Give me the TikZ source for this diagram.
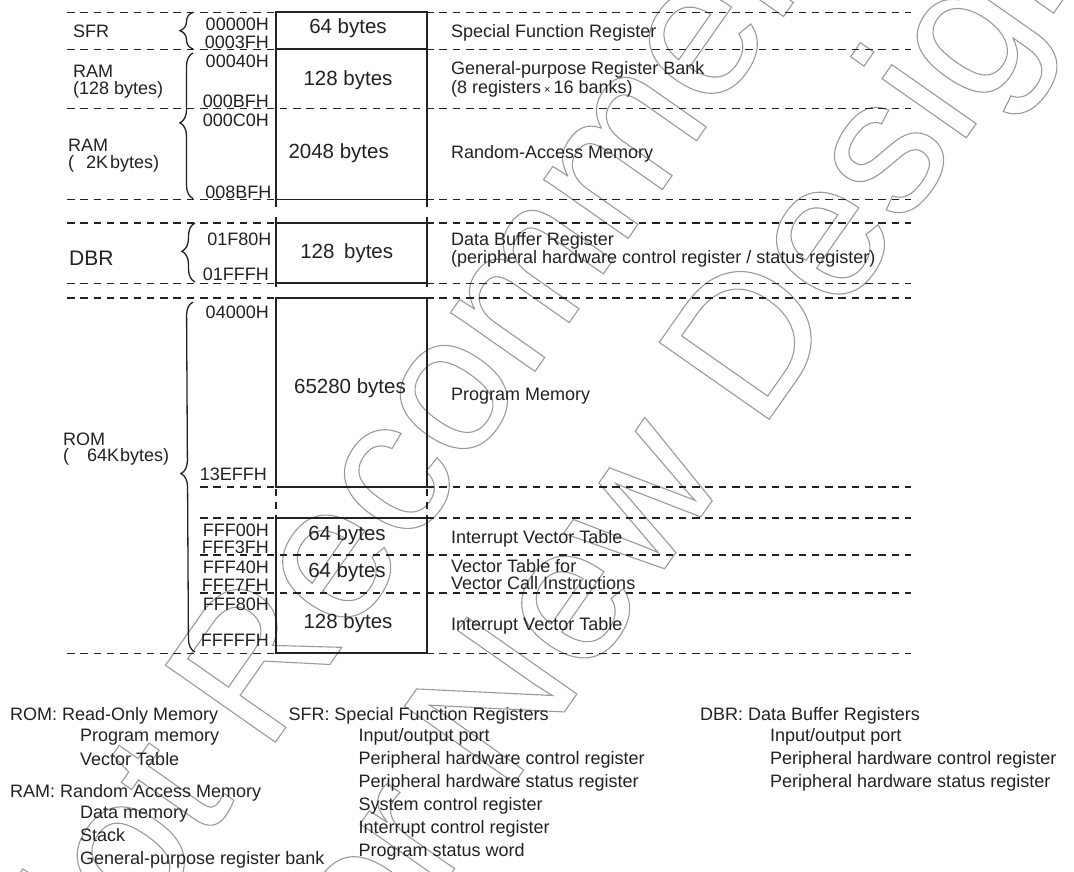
\documentclass[tikz,border=0pt]{standalone}
\usepackage{fontspec}
\setmainfont{Liberation Sans}
\usetikzlibrary{decorations.pathreplacing}
\definecolor{ink}{HTML}{222222}
\definecolor{wmark}{HTML}{9A9A9A}
\newcommand{\outlinetext}[1]{\special{pdf:literal direct 1 Tr 1.1 w}#1\special{pdf:literal direct 0 Tr}}
\begin{document}
\begin{tikzpicture}[x=1pt,y=-1pt,
  dline/.style={line width=1.6pt, dash pattern=on 7.5pt off 5.8pt, draw=ink},
  boxline/.style={line width=1.8pt, draw=ink},
  dside/.style={line width=1.8pt, draw=ink, dash pattern=on 7pt off 6pt},
  brc/.style={decorate, decoration={brace, amplitude=13pt}, line width=1.3pt, draw=ink},
  lbl/.style={font=\fontsize{18}{19}\selectfont, text=ink, inner sep=0pt, anchor=base west},
  addr/.style={font=\fontsize{18}{19}\selectfont, text=ink, inner sep=0pt, anchor=base east},
  sz/.style={font=\fontsize{20.5}{21}\selectfont, text=ink, inner sep=0pt, anchor=base},
  desc/.style={font=\fontsize{18}{19}\selectfont, text=ink, inner sep=0pt, anchor=base west},
  wm/.style={font=\fontsize{195}{200}\selectfont, text=wmark, inner sep=0pt, anchor=base, rotate=55},
]
\useasboundingbox (0,0) rectangle (1074,871);
\fill[white] (0,0) rectangle (1074,871);

% ---------- watermark ----------
\begin{scope}
\clip (0,0) rectangle (1074,871);
\node[wm] (wm1) at (543,360) {\outlinetext{Not Recommended}};
\node[wm] (wm2) at (726,481) {\outlinetext{for New Design}};
\end{scope}

% ---------- dashed separators ----------
\foreach \yy in {12.3,49.3,108.3,199.5,222.7,283.3,298,653.3}
  \draw[dline] (67,\yy) -- (911,\yy);
\foreach \yy in {487,517.7,555,592.7}
  \draw[dline] (200,\yy) -- (911,\yy);

% ---------- memory boxes ----------
\draw[boxline] (276,207) -- (276,12.3) -- (427,12.3) -- (427,207);
\draw[boxline] (276,49.3) -- (427,49.3);
\draw[boxline] (276,199.5) -- (427,199.5);
\draw[boxline] (276,216.7) -- (276,286.7);
\draw[boxline] (427,216.7) -- (427,286.7);
\draw[boxline] (276,222.7) -- (427,222.7);
\draw[boxline] (276,283.3) -- (427,283.3);
\draw[boxline] (276,296.7) -- (276,487) -- (427,487) -- (427,296.7);
\draw[boxline] (276,298) -- (427,298);
\draw[dside] (276,489) -- (276,517.7);
\draw[dside] (427,489) -- (427,517.7);
\draw[boxline] (276,517.7) rectangle (427,653.3);

% ---------- braces ----------
\coordinate (sfrB) at (193,49);   \coordinate (sfrT) at (193,12.3);
\coordinate (ramB) at (193,198.5); \coordinate (ramT) at (193,53);
\coordinate (dbrB) at (195,282);  \coordinate (dbrT) at (195,223);
\coordinate (romB) at (195,652);  \coordinate (romT) at (193,302);
\draw[brc] (sfrB) -- (sfrT);
\draw[brc, decoration={brace, amplitude=13pt, aspect=0.52}] (ramB) -- (ramT);
\draw[brc, decoration={brace, amplitude=13pt, aspect=0.52}] (dbrB) -- (dbrT);
\draw[brc, decoration={brace, amplitude=13pt, aspect=0.51}] (romB) -- (romT);

% ---------- area names ----------
\node[lbl] (sfrL)  at (73,37.7)  {SFR};
\node[lbl] (ram1L) at (73,77.3)  {RAM};
\node[lbl] (ram1S) at (73,94.5)  {(128 bytes)};
\node[lbl] (ram2L) at (68,151.7) {RAM};
\node[lbl] (ram2S) at (68,168.3) {(\hspace{12pt}2K\hspace{2pt}bytes)};
\node[lbl, font=\fontsize{21}{22}\selectfont] (dbrL) at (69,265) {DBR};
\node[lbl] (romL)  at (63,445)   {ROM};
\node[lbl] (romS)  at (63,461.7) {(\hspace{18pt}64K\hspace{1pt}bytes)};

% ---------- addresses ----------
\node[addr] (a1)  at (269,30)    {00000H};
\node[addr] (a2)  at (269,48)    {0003FH};
\node[addr] (a3)  at (269,67)    {00040H};
\node[addr] (a4)  at (269,107)   {000BFH};
\node[addr] (a5)  at (269,126)   {000C0H};
\node[addr] (a6)  at (271.5,198) {008BFH};
\node[addr] (a7)  at (271.5,245) {01F80H};
\node[addr] (a8)  at (269,280.7) {01FFFH};
\node[addr] (a9)  at (269,318)   {04000H};
\node[addr] (a10) at (267,480)   {13EFFH};
\node[addr] (a11) at (269,536)   {FFF00H};
\node[addr] (a12) at (269,553)   {FFF3FH};
\node[addr] (a13) at (269,573)   {FFF40H};
\node[addr] (a14) at (269,591)   {FFF7FH};
\node[addr] (a15) at (269,610)   {FFF80H};
\node[addr] (a16) at (269,646)   {FFFFFH};

% ---------- sizes ----------
\node[sz] (s1) at (348,33.3)  {64 bytes};
\node[sz] (s2) at (348,85)    {128 bytes};
\node[sz] (s3) at (338.7,158) {2048 bytes};
\node[sz] (s4) at (346.7,258.3) {128\hspace{4pt} bytes};
\node[sz] (s5) at (350,393.3) {65280 bytes};
\node[sz] (s6) at (347,540)   {64 bytes};
\node[sz] (s7) at (347,577.3) {64 bytes};
\node[sz] (s8) at (348,628.3) {128 bytes};

% ---------- descriptions ----------
\node[desc] (d1)  at (451,37.7)  {Special Function Register};
\node[desc] (d2)  at (451,74)    {General-purpose Register Bank};
\node[desc] (d2b) at (451,93.3)  {(8 registers\,{\fontsize{11}{11}\selectfont ×}\,16 banks)};
\node[desc] (d3)  at (451,158.3) {Random-Access Memory};
\node[desc] (d4)  at (451,245)   {Data Buffer Register};
\node[desc] (d4b) at (451,263.3) {(peripheral hardware control register / status register)};
\node[desc] (d5)  at (451,400)   {Program Memory};
\node[desc] (d6)  at (451,543.3) {Interrupt Vector Table};
\node[desc] (d7)  at (451,572.3) {Vector Table for};
\node[desc] (d7b) at (451,589.8) {Vector Call Instructions};
\node[desc] (d8)  at (451,630)   {Interrupt Vector Table};

% ---------- legend ----------
\node[lbl] (g1)  at (10,720)    {ROM: Read-Only Memory};
\node[lbl] (g1a) at (80,741.7)  {Program memory};
\node[lbl] (g1b) at (80,765)    {Vector Table};
\node[lbl] (g2)  at (10,797.7)  {RAM: Random Access Memory};
\node[lbl] (g2a) at (80,818.3)  {Data memory};
\node[lbl] (g2b) at (80,841.7)  {Stack};
\node[lbl] (g2c) at (80,864.3)  {General-purpose register bank};

\node[lbl] (g3)  at (288.3,720)   {SFR: Special Function Registers};
\node[lbl] (g3a) at (358.3,741.7) {Input/output port};
\node[lbl] (g3b) at (358.3,764.3) {Peripheral hardware control register};
\node[lbl] (g3c) at (358.3,787.3) {Peripheral hardware status register};
\node[lbl] (g3d) at (358.3,810)   {System control register};
\node[lbl] (g3e) at (358.3,833.3) {Interrupt control register};
\node[lbl] (g3f) at (358.3,856.7) {Program status word};

\node[lbl] (g4)  at (700,720)   {DBR: Data Buffer Registers};
\node[lbl] (g4a) at (770,741.7) {Input/output port};
\node[lbl] (g4b) at (770,764.3) {Peripheral hardware control register};
\node[lbl] (g4c) at (770,787.3) {Peripheral hardware status register};
\end{tikzpicture}
\end{document}
